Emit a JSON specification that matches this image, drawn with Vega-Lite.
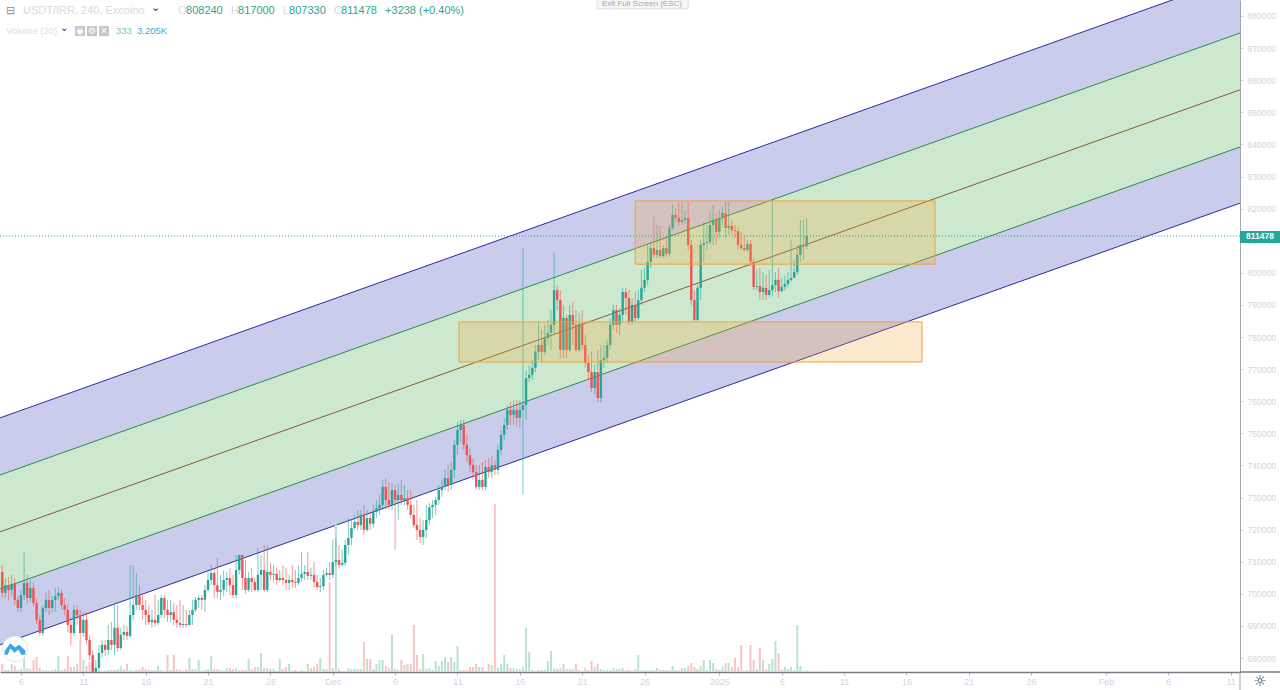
{
  "$schema": "https://vega.github.io/schema/vega-lite/v6.json",
  "width": 1240,
  "height": 672,
  "padding": {"left": 0, "top": 0, "right": 40, "bottom": 18},
  "autosize": "none",
  "background": "white",
  "view": {"stroke": null},
  "config": {"font": "Liberation Sans"},
  "datasets": {
    "channel": [
      {"t": "2024-11-04T07:36Z", "top": 754800, "gu": 737000, "mid": 719300, "gl": 701500, "bot": 684100},
      {"t": "2025-02-11T18:00Z", "top": 892500, "gu": 874700, "mid": 857000, "gl": 839200, "bot": 821700}
    ],
    "boxes": [
      {"t": "2024-12-11T03:00Z", "t2": "2025-01-17T06:00Z", "hi": 784700, "lo": 772200},
      {"t": "2024-12-25T06:00Z", "t2": "2025-01-18T07:00Z", "hi": 822400, "lo": 802700}
    ],
    "tag": [{"t": "2025-02-11T18:00Z", "t2": "2025-02-11T18:00Z", "hi": 813000, "lo": 809300, "p": 811478, "txt": "811478"}],
    "frame": [{"t": "2025-02-11T18:00Z", "t2": "2025-02-11T18:00Z", "p": 675640, "p2": 670000}],
    "gear": [{"t": "2025-02-11T18:00Z", "p": 672800, "txt": "☼"}],
    "banner": [{"t": "2024-12-22T04:48Z", "t2": "2024-12-29T12:00Z", "hi": 886000, "lo": 882200, "c": "2024-12-25T19:00Z", "p": 883700, "txt": "Exit Full Screen (ESC)"}],
    "logo": [{"t": "2024-11-05T12:24Z", "p": 682800}],
    "head": [
      {"t": "2024-11-04T19:06Z", "p": 881550, "kind": "icon", "txt": "⊟"},
      {"t": "2024-11-06T03:51Z", "p": 881550, "kind": "muted", "txt": "USDT/IRR, 240, Excoino"},
      {"t": "2024-11-16T10:15Z", "p": 882500, "kind": "dark", "txt": "⌄"},
      {"t": "2024-11-18T14:13Z", "p": 881550, "kind": "muted", "txt": "O"},
      {"t": "2024-11-19T05:37Z", "p": 881550, "kind": "value", "txt": "808240"},
      {"t": "2024-11-22T20:15Z", "p": 881550, "kind": "muted", "txt": "H"},
      {"t": "2024-11-23T09:42Z", "p": 881550, "kind": "value", "txt": "817000"},
      {"t": "2024-11-27T00:18Z", "p": 881550, "kind": "muted", "txt": "L"},
      {"t": "2024-11-27T11:54Z", "p": 881550, "kind": "value", "txt": "807330"},
      {"t": "2024-12-01T02:30Z", "p": 881550, "kind": "muted", "txt": "C"},
      {"t": "2024-12-01T16:00Z", "p": 881550, "kind": "value", "txt": "811478"},
      {"t": "2024-12-05T04:42Z", "p": 881550, "kind": "value", "txt": "+3238 (+0.40%)"}
    ],
    "head2": [
      {"t": "2024-11-04T19:06Z", "p": 875300, "kind": "faint", "txt": "Volume (20)"},
      {"t": "2024-11-09T03:00Z", "p": 876200, "kind": "dark", "txt": "⌄"},
      {"t": "2024-11-13T14:54Z", "p": 875300, "kind": "vol", "txt": "333"},
      {"t": "2024-11-15T07:18Z", "p": 875300, "kind": "avg", "txt": "3.205K"}
    ],
    "buttons": [
      {"t": "2024-11-10T17:36Z", "p": 875300, "txt": "◉"},
      {"t": "2024-11-11T16:42Z", "p": 875300, "txt": "⚙"},
      {"t": "2024-11-12T15:48Z", "p": 875300, "txt": "✕"}
    ],
    "candles": [
      {"t":"2024-11-04T12:00Z","o":706800,"h":709000,"l":698700,"c":700300,"v":1600},
      {"t":"2024-11-04T18:00Z","o":700300,"h":704900,"l":698700,"c":702700,"v":400},
      {"t":"2024-11-05T00:00Z","o":702700,"h":705200,"l":698100,"c":701200,"v":400},
      {"t":"2024-11-05T06:00Z","o":701200,"h":705900,"l":699300,"c":703000,"v":1600},
      {"t":"2024-11-05T12:00Z","o":703000,"h":704900,"l":696500,"c":698100,"v":1200},
      {"t":"2024-11-05T18:00Z","o":698100,"h":699300,"l":694300,"c":695600,"v":400},
      {"t":"2024-11-06T00:00Z","o":695600,"h":701200,"l":694300,"c":699600,"v":600},
      {"t":"2024-11-06T06:00Z","o":699600,"h":713000,"l":698100,"c":703400,"v":3400},
      {"t":"2024-11-06T12:00Z","o":703400,"h":705900,"l":697100,"c":698700,"v":800},
      {"t":"2024-11-06T18:00Z","o":698700,"h":704300,"l":697500,"c":701800,"v":600},
      {"t":"2024-11-07T00:00Z","o":701800,"h":703700,"l":695900,"c":697100,"v":2400},
      {"t":"2024-11-07T06:00Z","o":697100,"h":698700,"l":690600,"c":691900,"v":3000},
      {"t":"2024-11-07T12:00Z","o":691900,"h":693400,"l":686900,"c":687800,"v":800},
      {"t":"2024-11-07T18:00Z","o":687800,"h":696500,"l":686900,"c":695600,"v":400},
      {"t":"2024-11-08T00:00Z","o":695600,"h":700300,"l":694300,"c":698100,"v":400},
      {"t":"2024-11-08T06:00Z","o":698100,"h":701200,"l":693400,"c":695600,"v":200},
      {"t":"2024-11-08T12:00Z","o":695600,"h":699300,"l":694300,"c":698100,"v":400},
      {"t":"2024-11-08T18:00Z","o":698100,"h":701800,"l":694300,"c":699300,"v":600},
      {"t":"2024-11-09T00:00Z","o":699300,"h":702100,"l":698100,"c":700300,"v":3200},
      {"t":"2024-11-09T06:00Z","o":700300,"h":701200,"l":695000,"c":696500,"v":400},
      {"t":"2024-11-09T12:00Z","o":696500,"h":698700,"l":693400,"c":695000,"v":600},
      {"t":"2024-11-09T18:00Z","o":695000,"h":697100,"l":688100,"c":690300,"v":3200},
      {"t":"2024-11-10T00:00Z","o":690300,"h":692500,"l":684100,"c":687800,"v":1000},
      {"t":"2024-11-10T06:00Z","o":687800,"h":696500,"l":686900,"c":695000,"v":1000},
      {"t":"2024-11-10T12:00Z","o":695000,"h":696500,"l":690300,"c":693400,"v":1600},
      {"t":"2024-11-10T18:00Z","o":693400,"h":695000,"l":685600,"c":687800,"v":6400},
      {"t":"2024-11-11T00:00Z","o":687800,"h":694300,"l":686600,"c":691900,"v":2400},
      {"t":"2024-11-11T06:00Z","o":691900,"h":694300,"l":684100,"c":685600,"v":1200},
      {"t":"2024-11-11T12:00Z","o":685600,"h":687200,"l":679400,"c":680900,"v":2000},
      {"t":"2024-11-11T18:00Z","o":680900,"h":682500,"l":675700,"c":675700,"v":1600},
      {"t":"2024-11-12T00:00Z","o":675700,"h":679400,"l":675700,"c":676900,"v":600},
      {"t":"2024-11-12T06:00Z","o":676900,"h":684100,"l":675700,"c":681600,"v":200},
      {"t":"2024-11-12T12:00Z","o":681600,"h":685600,"l":680000,"c":684100,"v":200},
      {"t":"2024-11-12T18:00Z","o":684100,"h":685600,"l":680600,"c":682500,"v":200},
      {"t":"2024-11-13T00:00Z","o":682500,"h":690300,"l":680900,"c":685600,"v":400},
      {"t":"2024-11-13T06:00Z","o":685600,"h":691200,"l":682500,"c":684100,"v":400},
      {"t":"2024-11-13T12:00Z","o":684100,"h":696500,"l":680900,"c":689400,"v":400},
      {"t":"2024-11-13T18:00Z","o":689400,"h":696500,"l":681900,"c":683100,"v":600},
      {"t":"2024-11-14T00:00Z","o":683100,"h":689400,"l":682500,"c":687200,"v":1200},
      {"t":"2024-11-14T06:00Z","o":687200,"h":690300,"l":685600,"c":688100,"v":600},
      {"t":"2024-11-14T12:00Z","o":688100,"h":690000,"l":685600,"c":686900,"v":1600},
      {"t":"2024-11-14T18:00Z","o":686900,"h":709000,"l":686200,"c":693400,"v":400},
      {"t":"2024-11-15T00:00Z","o":693400,"h":709000,"l":691900,"c":696500,"v":200},
      {"t":"2024-11-15T06:00Z","o":696500,"h":706500,"l":695000,"c":699600,"v":400},
      {"t":"2024-11-15T12:00Z","o":699600,"h":702700,"l":695000,"c":696500,"v":600},
      {"t":"2024-11-15T18:00Z","o":696500,"h":699600,"l":691900,"c":695000,"v":1000},
      {"t":"2024-11-16T00:00Z","o":695000,"h":698100,"l":690300,"c":693400,"v":600},
      {"t":"2024-11-16T06:00Z","o":693400,"h":696500,"l":690300,"c":691200,"v":400},
      {"t":"2024-11-16T12:00Z","o":691200,"h":695000,"l":689400,"c":691900,"v":400},
      {"t":"2024-11-16T18:00Z","o":691900,"h":699600,"l":689700,"c":690900,"v":400},
      {"t":"2024-11-17T00:00Z","o":690900,"h":698100,"l":690300,"c":693400,"v":1200},
      {"t":"2024-11-17T06:00Z","o":693400,"h":699600,"l":692500,"c":698700,"v":400},
      {"t":"2024-11-17T12:00Z","o":698700,"h":699600,"l":692500,"c":695000,"v":200},
      {"t":"2024-11-17T18:00Z","o":695000,"h":698100,"l":691200,"c":693400,"v":3400},
      {"t":"2024-11-18T00:00Z","o":693400,"h":698100,"l":691200,"c":694300,"v":400},
      {"t":"2024-11-18T06:00Z","o":694300,"h":697100,"l":690300,"c":691900,"v":3400},
      {"t":"2024-11-18T12:00Z","o":691900,"h":696500,"l":689400,"c":690900,"v":600},
      {"t":"2024-11-18T18:00Z","o":690900,"h":698100,"l":689400,"c":690300,"v":400},
      {"t":"2024-11-19T00:00Z","o":690300,"h":696500,"l":689400,"c":690600,"v":200},
      {"t":"2024-11-19T06:00Z","o":690600,"h":695000,"l":689400,"c":690300,"v":600},
      {"t":"2024-11-19T12:00Z","o":690300,"h":695000,"l":690000,"c":693400,"v":2800},
      {"t":"2024-11-19T18:00Z","o":693400,"h":698100,"l":690300,"c":695000,"v":600},
      {"t":"2024-11-20T00:00Z","o":695000,"h":699000,"l":694300,"c":698100,"v":600},
      {"t":"2024-11-20T06:00Z","o":698100,"h":699600,"l":695600,"c":698700,"v":2400},
      {"t":"2024-11-20T12:00Z","o":698700,"h":699600,"l":695000,"c":698100,"v":200},
      {"t":"2024-11-20T18:00Z","o":698100,"h":702700,"l":694300,"c":701200,"v":400},
      {"t":"2024-11-21T00:00Z","o":701200,"h":706800,"l":700600,"c":704300,"v":600},
      {"t":"2024-11-21T06:00Z","o":704300,"h":709000,"l":702700,"c":706500,"v":3200},
      {"t":"2024-11-21T12:00Z","o":706500,"h":707400,"l":698700,"c":702700,"v":600},
      {"t":"2024-11-21T18:00Z","o":702700,"h":711200,"l":698700,"c":700600,"v":600},
      {"t":"2024-11-22T00:00Z","o":700600,"h":705900,"l":698100,"c":701200,"v":400},
      {"t":"2024-11-22T06:00Z","o":701200,"h":707400,"l":699300,"c":704300,"v":200},
      {"t":"2024-11-22T12:00Z","o":704300,"h":706800,"l":700600,"c":704900,"v":800},
      {"t":"2024-11-22T18:00Z","o":704900,"h":708000,"l":699600,"c":702700,"v":800},
      {"t":"2024-11-23T00:00Z","o":702700,"h":705900,"l":698700,"c":699600,"v":600},
      {"t":"2024-11-23T06:00Z","o":699600,"h":712100,"l":698700,"c":707400,"v":800},
      {"t":"2024-11-23T12:00Z","o":707400,"h":712100,"l":705900,"c":712100,"v":400},
      {"t":"2024-11-23T18:00Z","o":712100,"h":712100,"l":701200,"c":704900,"v":400},
      {"t":"2024-11-24T00:00Z","o":704900,"h":710500,"l":700000,"c":701200,"v":400},
      {"t":"2024-11-24T06:00Z","o":701200,"h":706800,"l":700600,"c":704900,"v":2600},
      {"t":"2024-11-24T12:00Z","o":704900,"h":708000,"l":700600,"c":703700,"v":600},
      {"t":"2024-11-24T18:00Z","o":703700,"h":704900,"l":700600,"c":701200,"v":1000},
      {"t":"2024-11-25T00:00Z","o":701200,"h":714300,"l":700600,"c":705900,"v":1000},
      {"t":"2024-11-25T06:00Z","o":705900,"h":712100,"l":701200,"c":707400,"v":3800},
      {"t":"2024-11-25T12:00Z","o":707400,"h":715200,"l":700600,"c":701200,"v":800},
      {"t":"2024-11-25T18:00Z","o":701200,"h":715200,"l":700600,"c":706800,"v":800},
      {"t":"2024-11-26T00:00Z","o":706800,"h":709600,"l":704300,"c":705900,"v":600},
      {"t":"2024-11-26T06:00Z","o":705900,"h":709000,"l":703700,"c":706200,"v":600},
      {"t":"2024-11-26T12:00Z","o":706200,"h":708000,"l":702700,"c":704300,"v":200},
      {"t":"2024-11-26T18:00Z","o":704300,"h":707400,"l":703700,"c":704900,"v":2600},
      {"t":"2024-11-27T00:00Z","o":704900,"h":709000,"l":702700,"c":704300,"v":600},
      {"t":"2024-11-27T06:00Z","o":704300,"h":708000,"l":701200,"c":703400,"v":1000},
      {"t":"2024-11-27T12:00Z","o":703400,"h":705900,"l":701200,"c":704300,"v":1600},
      {"t":"2024-11-27T18:00Z","o":704300,"h":709000,"l":701800,"c":703700,"v":200},
      {"t":"2024-11-28T00:00Z","o":703700,"h":707400,"l":701800,"c":703400,"v":400},
      {"t":"2024-11-28T06:00Z","o":703400,"h":709000,"l":702700,"c":704900,"v":200},
      {"t":"2024-11-28T12:00Z","o":704900,"h":713000,"l":703700,"c":706200,"v":400},
      {"t":"2024-11-28T18:00Z","o":706200,"h":709000,"l":704300,"c":706800,"v":200},
      {"t":"2024-11-29T00:00Z","o":706800,"h":713000,"l":704300,"c":705600,"v":1600},
      {"t":"2024-11-29T06:00Z","o":705600,"h":708000,"l":704300,"c":705900,"v":800},
      {"t":"2024-11-29T12:00Z","o":705900,"h":709900,"l":701800,"c":703700,"v":1000},
      {"t":"2024-11-29T18:00Z","o":703700,"h":705900,"l":701200,"c":702100,"v":1600},
      {"t":"2024-11-30T00:00Z","o":702100,"h":704900,"l":700600,"c":702400,"v":2800},
      {"t":"2024-11-30T06:00Z","o":702400,"h":707400,"l":701200,"c":705900,"v":600},
      {"t":"2024-11-30T12:00Z","o":705900,"h":708000,"l":705200,"c":706500,"v":600},
      {"t":"2024-11-30T18:00Z","o":706500,"h":709900,"l":704300,"c":705900,"v":18000},
      {"t":"2024-12-01T00:00Z","o":705900,"h":716800,"l":704900,"c":709900,"v":800},
      {"t":"2024-12-01T06:00Z","o":709900,"h":717400,"l":708700,"c":710500,"v":31000},
      {"t":"2024-12-01T12:00Z","o":710500,"h":715200,"l":708000,"c":709000,"v":600},
      {"t":"2024-12-01T18:00Z","o":709000,"h":713700,"l":708400,"c":709600,"v":200},
      {"t":"2024-12-02T00:00Z","o":709600,"h":716800,"l":708700,"c":715200,"v":200},
      {"t":"2024-12-02T06:00Z","o":715200,"h":723600,"l":712100,"c":717400,"v":800},
      {"t":"2024-12-02T12:00Z","o":717400,"h":723000,"l":715200,"c":720500,"v":600},
      {"t":"2024-12-02T18:00Z","o":720500,"h":724600,"l":719900,"c":722400,"v":600},
      {"t":"2024-12-03T00:00Z","o":722400,"h":726100,"l":719900,"c":721400,"v":600},
      {"t":"2024-12-03T06:00Z","o":721400,"h":726100,"l":719900,"c":724600,"v":600},
      {"t":"2024-12-03T12:00Z","o":724600,"h":727700,"l":718300,"c":719900,"v":6000},
      {"t":"2024-12-03T18:00Z","o":719900,"h":726100,"l":719300,"c":723600,"v":2600},
      {"t":"2024-12-04T00:00Z","o":723600,"h":725500,"l":719900,"c":721800,"v":2600},
      {"t":"2024-12-04T06:00Z","o":721800,"h":727700,"l":720500,"c":725500,"v":600},
      {"t":"2024-12-04T12:00Z","o":725500,"h":729200,"l":723600,"c":726700,"v":1600},
      {"t":"2024-12-04T18:00Z","o":726700,"h":730800,"l":724600,"c":727700,"v":2400},
      {"t":"2024-12-05T00:00Z","o":727700,"h":735500,"l":726100,"c":733300,"v":2400},
      {"t":"2024-12-05T06:00Z","o":733300,"h":736100,"l":726100,"c":729200,"v":1200},
      {"t":"2024-12-05T12:00Z","o":729200,"h":734800,"l":726100,"c":727700,"v":800},
      {"t":"2024-12-05T18:00Z","o":727700,"h":734500,"l":726100,"c":732300,"v":7600},
      {"t":"2024-12-06T00:00Z","o":732300,"h":733900,"l":713700,"c":729200,"v":600},
      {"t":"2024-12-06T06:00Z","o":729200,"h":734500,"l":723000,"c":730800,"v":400},
      {"t":"2024-12-06T12:00Z","o":730800,"h":735500,"l":727700,"c":729200,"v":2400},
      {"t":"2024-12-06T18:00Z","o":729200,"h":733900,"l":727400,"c":729800,"v":1400},
      {"t":"2024-12-07T00:00Z","o":729800,"h":732300,"l":726100,"c":727700,"v":1600},
      {"t":"2024-12-07T06:00Z","o":727700,"h":732300,"l":723600,"c":724600,"v":1600},
      {"t":"2024-12-07T12:00Z","o":724600,"h":727700,"l":720500,"c":721400,"v":9400},
      {"t":"2024-12-07T18:00Z","o":721400,"h":729200,"l":716800,"c":719900,"v":3400},
      {"t":"2024-12-08T00:00Z","o":719900,"h":723600,"l":715800,"c":717700,"v":600},
      {"t":"2024-12-08T06:00Z","o":717700,"h":723000,"l":715200,"c":719900,"v":3600},
      {"t":"2024-12-08T12:00Z","o":719900,"h":727700,"l":717400,"c":723000,"v":600},
      {"t":"2024-12-08T18:00Z","o":723000,"h":728300,"l":721400,"c":727000,"v":800},
      {"t":"2024-12-09T00:00Z","o":727000,"h":729200,"l":723600,"c":727700,"v":400},
      {"t":"2024-12-09T06:00Z","o":727700,"h":730200,"l":724600,"c":729200,"v":2200},
      {"t":"2024-12-09T12:00Z","o":729200,"h":733900,"l":727700,"c":732300,"v":1200},
      {"t":"2024-12-09T18:00Z","o":732300,"h":735500,"l":730200,"c":733300,"v":2200},
      {"t":"2024-12-10T00:00Z","o":733300,"h":738600,"l":732300,"c":736100,"v":3000},
      {"t":"2024-12-10T06:00Z","o":736100,"h":740100,"l":731700,"c":733900,"v":2000},
      {"t":"2024-12-10T12:00Z","o":733900,"h":741100,"l":732300,"c":738600,"v":3000},
      {"t":"2024-12-10T18:00Z","o":738600,"h":747900,"l":736100,"c":746400,"v":2000},
      {"t":"2024-12-11T00:00Z","o":746400,"h":753500,"l":743200,"c":751000,"v":5200},
      {"t":"2024-12-11T06:00Z","o":751000,"h":754200,"l":747300,"c":752600,"v":400},
      {"t":"2024-12-11T12:00Z","o":752600,"h":754200,"l":744800,"c":746400,"v":400},
      {"t":"2024-12-11T18:00Z","o":746400,"h":749500,"l":741100,"c":743200,"v":400},
      {"t":"2024-12-12T00:00Z","o":743200,"h":745400,"l":737900,"c":740100,"v":1000},
      {"t":"2024-12-12T06:00Z","o":740100,"h":742300,"l":735500,"c":737900,"v":1000},
      {"t":"2024-12-12T12:00Z","o":737900,"h":740100,"l":732300,"c":733300,"v":1600},
      {"t":"2024-12-12T18:00Z","o":733300,"h":740100,"l":732300,"c":735500,"v":1000},
      {"t":"2024-12-13T00:00Z","o":735500,"h":741100,"l":732300,"c":733300,"v":1000},
      {"t":"2024-12-13T06:00Z","o":733300,"h":741700,"l":732300,"c":739500,"v":200},
      {"t":"2024-12-13T12:00Z","o":739500,"h":742300,"l":736100,"c":737900,"v":1600},
      {"t":"2024-12-13T18:00Z","o":737900,"h":743000,"l":736100,"c":740100,"v":1400},
      {"t":"2024-12-14T00:00Z","o":740100,"h":741700,"l":737000,"c":738600,"v":33600},
      {"t":"2024-12-14T06:00Z","o":738600,"h":746400,"l":737000,"c":744800,"v":800},
      {"t":"2024-12-14T12:00Z","o":744800,"h":751000,"l":743200,"c":749500,"v":1600},
      {"t":"2024-12-14T18:00Z","o":749500,"h":754800,"l":747900,"c":752600,"v":3400},
      {"t":"2024-12-15T00:00Z","o":752600,"h":758800,"l":751000,"c":757300,"v":1600},
      {"t":"2024-12-15T06:00Z","o":757300,"h":759800,"l":752600,"c":755700,"v":800},
      {"t":"2024-12-15T12:00Z","o":755700,"h":760400,"l":752600,"c":757300,"v":800},
      {"t":"2024-12-15T18:00Z","o":757300,"h":760400,"l":752300,"c":754800,"v":600},
      {"t":"2024-12-16T00:00Z","o":754800,"h":760400,"l":751700,"c":757300,"v":600},
      {"t":"2024-12-16T06:00Z","o":757300,"h":807700,"l":731100,"c":758800,"v":1000},
      {"t":"2024-12-16T12:00Z","o":758800,"h":769700,"l":754200,"c":767200,"v":8800},
      {"t":"2024-12-16T18:00Z","o":767200,"h":771300,"l":766000,"c":768200,"v":4000},
      {"t":"2024-12-17T00:00Z","o":768200,"h":772800,"l":766600,"c":770400,"v":400},
      {"t":"2024-12-17T06:00Z","o":770400,"h":777500,"l":769100,"c":775400,"v":200},
      {"t":"2024-12-17T12:00Z","o":775400,"h":784700,"l":772800,"c":777500,"v":400},
      {"t":"2024-12-17T18:00Z","o":777500,"h":782200,"l":772200,"c":775400,"v":400},
      {"t":"2024-12-18T00:00Z","o":775400,"h":783800,"l":774400,"c":779700,"v":400},
      {"t":"2024-12-18T06:00Z","o":779700,"h":785300,"l":777500,"c":781300,"v":2200},
      {"t":"2024-12-18T12:00Z","o":781300,"h":788400,"l":776000,"c":783800,"v":4200},
      {"t":"2024-12-18T18:00Z","o":783800,"h":806500,"l":780600,"c":794600,"v":600},
      {"t":"2024-12-19T00:00Z","o":794600,"h":796200,"l":788400,"c":791500,"v":600},
      {"t":"2024-12-19T06:00Z","o":791500,"h":794600,"l":773500,"c":776000,"v":800},
      {"t":"2024-12-19T12:00Z","o":776000,"h":790000,"l":773500,"c":785900,"v":1600},
      {"t":"2024-12-19T18:00Z","o":785900,"h":786900,"l":773500,"c":776000,"v":600},
      {"t":"2024-12-20T00:00Z","o":776000,"h":790000,"l":775400,"c":786900,"v":600},
      {"t":"2024-12-20T06:00Z","o":786900,"h":790900,"l":777500,"c":783800,"v":600},
      {"t":"2024-12-20T12:00Z","o":783800,"h":788400,"l":775400,"c":776000,"v":1600},
      {"t":"2024-12-20T18:00Z","o":776000,"h":787500,"l":775400,"c":784100,"v":400},
      {"t":"2024-12-21T00:00Z","o":784100,"h":788400,"l":776000,"c":777500,"v":200},
      {"t":"2024-12-21T06:00Z","o":777500,"h":780600,"l":770400,"c":771900,"v":800},
      {"t":"2024-12-21T12:00Z","o":771900,"h":774400,"l":766600,"c":769100,"v":400},
      {"t":"2024-12-21T18:00Z","o":769100,"h":775400,"l":762900,"c":764100,"v":2200},
      {"t":"2024-12-22T00:00Z","o":764100,"h":771300,"l":762200,"c":769100,"v":1000},
      {"t":"2024-12-22T06:00Z","o":769100,"h":776000,"l":759500,"c":761000,"v":1600},
      {"t":"2024-12-22T12:00Z","o":761000,"h":777500,"l":759500,"c":772800,"v":600},
      {"t":"2024-12-22T18:00Z","o":772800,"h":777500,"l":770400,"c":773500,"v":400},
      {"t":"2024-12-23T00:00Z","o":773500,"h":779100,"l":771900,"c":777500,"v":400},
      {"t":"2024-12-23T06:00Z","o":777500,"h":785900,"l":776000,"c":783800,"v":400},
      {"t":"2024-12-23T12:00Z","o":783800,"h":790000,"l":782200,"c":788400,"v":800},
      {"t":"2024-12-23T18:00Z","o":788400,"h":790000,"l":781300,"c":783800,"v":600},
      {"t":"2024-12-24T00:00Z","o":783800,"h":789000,"l":780600,"c":786900,"v":600},
      {"t":"2024-12-24T06:00Z","o":786900,"h":795300,"l":784700,"c":794000,"v":800},
      {"t":"2024-12-24T12:00Z","o":794000,"h":795300,"l":786900,"c":792100,"v":400},
      {"t":"2024-12-24T18:00Z","o":792100,"h":794600,"l":783800,"c":784700,"v":400},
      {"t":"2024-12-25T00:00Z","o":784700,"h":792100,"l":783800,"c":790000,"v":200},
      {"t":"2024-12-25T06:00Z","o":790000,"h":794000,"l":784700,"c":785900,"v":600},
      {"t":"2024-12-25T12:00Z","o":785900,"h":794600,"l":785300,"c":791500,"v":3400},
      {"t":"2024-12-25T18:00Z","o":791500,"h":800900,"l":790000,"c":795300,"v":400},
      {"t":"2024-12-26T00:00Z","o":795300,"h":801500,"l":794000,"c":797800,"v":400},
      {"t":"2024-12-26T06:00Z","o":797800,"h":808700,"l":796200,"c":803400,"v":400},
      {"t":"2024-12-26T12:00Z","o":803400,"h":809300,"l":801500,"c":807700,"v":400},
      {"t":"2024-12-26T18:00Z","o":807700,"h":817400,"l":804600,"c":805600,"v":400},
      {"t":"2024-12-27T00:00Z","o":805600,"h":814900,"l":804600,"c":807100,"v":800},
      {"t":"2024-12-27T06:00Z","o":807100,"h":814600,"l":804600,"c":805200,"v":400},
      {"t":"2024-12-27T12:00Z","o":805200,"h":808700,"l":804600,"c":807700,"v":400},
      {"t":"2024-12-27T18:00Z","o":807700,"h":811500,"l":804900,"c":805900,"v":400},
      {"t":"2024-12-28T00:00Z","o":805900,"h":814900,"l":805200,"c":814000,"v":400},
      {"t":"2024-12-28T06:00Z","o":814000,"h":821100,"l":813300,"c":818000,"v":1200},
      {"t":"2024-12-28T12:00Z","o":818000,"h":820200,"l":815800,"c":817100,"v":400},
      {"t":"2024-12-28T18:00Z","o":817100,"h":822100,"l":814600,"c":815800,"v":400},
      {"t":"2024-12-29T00:00Z","o":815800,"h":822100,"l":814900,"c":816500,"v":800},
      {"t":"2024-12-29T06:00Z","o":816500,"h":819600,"l":815200,"c":817100,"v":800},
      {"t":"2024-12-29T12:00Z","o":817100,"h":822100,"l":807100,"c":808700,"v":1200},
      {"t":"2024-12-29T18:00Z","o":808700,"h":810200,"l":790000,"c":791500,"v":1800},
      {"t":"2024-12-30T00:00Z","o":791500,"h":794600,"l":784700,"c":785300,"v":1000},
      {"t":"2024-12-30T06:00Z","o":785300,"h":796200,"l":784700,"c":795300,"v":600},
      {"t":"2024-12-30T12:00Z","o":795300,"h":810200,"l":791500,"c":808700,"v":1200},
      {"t":"2024-12-30T18:00Z","o":808700,"h":815800,"l":803400,"c":809300,"v":2400},
      {"t":"2024-12-31T00:00Z","o":809300,"h":814900,"l":807100,"c":809600,"v":400},
      {"t":"2024-12-31T06:00Z","o":809600,"h":818900,"l":808700,"c":814900,"v":2400},
      {"t":"2024-12-31T12:00Z","o":814900,"h":821100,"l":808700,"c":816500,"v":1800},
      {"t":"2024-12-31T18:00Z","o":816500,"h":818600,"l":808700,"c":812700,"v":600},
      {"t":"2025-01-01T00:00Z","o":812700,"h":819600,"l":810800,"c":817100,"v":400},
      {"t":"2025-01-01T06:00Z","o":817100,"h":820500,"l":814600,"c":818600,"v":1000},
      {"t":"2025-01-01T12:00Z","o":818600,"h":822100,"l":810800,"c":814000,"v":1800},
      {"t":"2025-01-01T18:00Z","o":814000,"h":822100,"l":811800,"c":814600,"v":1800},
      {"t":"2025-01-02T00:00Z","o":814600,"h":816500,"l":811800,"c":813300,"v":1000},
      {"t":"2025-01-02T06:00Z","o":813300,"h":814900,"l":810800,"c":813000,"v":2800},
      {"t":"2025-01-02T12:00Z","o":813000,"h":814000,"l":807100,"c":808700,"v":1000},
      {"t":"2025-01-02T18:00Z","o":808700,"h":812700,"l":807100,"c":807700,"v":5400},
      {"t":"2025-01-03T00:00Z","o":807700,"h":811500,"l":806500,"c":807100,"v":200},
      {"t":"2025-01-03T06:00Z","o":807100,"h":810200,"l":806500,"c":809000,"v":400},
      {"t":"2025-01-03T12:00Z","o":809000,"h":810200,"l":802100,"c":803400,"v":5400},
      {"t":"2025-01-03T18:00Z","o":803400,"h":804600,"l":794600,"c":795600,"v":2400},
      {"t":"2025-01-04T00:00Z","o":795600,"h":800900,"l":794600,"c":795900,"v":600},
      {"t":"2025-01-04T06:00Z","o":795900,"h":801500,"l":791500,"c":794000,"v":4800},
      {"t":"2025-01-04T12:00Z","o":794000,"h":800200,"l":791500,"c":795300,"v":2400},
      {"t":"2025-01-04T18:00Z","o":795300,"h":799300,"l":791500,"c":793100,"v":600},
      {"t":"2025-01-05T00:00Z","o":793100,"h":800900,"l":792500,"c":794600,"v":1600},
      {"t":"2025-01-05T06:00Z","o":794600,"h":822700,"l":792800,"c":796200,"v":2600},
      {"t":"2025-01-05T12:00Z","o":796200,"h":800200,"l":794000,"c":797800,"v":6200},
      {"t":"2025-01-05T18:00Z","o":797800,"h":801500,"l":792200,"c":794300,"v":3800},
      {"t":"2025-01-06T00:00Z","o":794300,"h":798400,"l":794000,"c":795600,"v":600},
      {"t":"2025-01-06T06:00Z","o":795600,"h":799000,"l":794600,"c":796500,"v":1000},
      {"t":"2025-01-06T12:00Z","o":796500,"h":800200,"l":795300,"c":797800,"v":600},
      {"t":"2025-01-06T18:00Z","o":797800,"h":810200,"l":797100,"c":798400,"v":1000},
      {"t":"2025-01-07T00:00Z","o":798400,"h":804000,"l":799000,"c":800200,"v":400},
      {"t":"2025-01-07T06:00Z","o":800200,"h":808700,"l":799300,"c":805600,"v":9400},
      {"t":"2025-01-07T12:00Z","o":805600,"h":816500,"l":803400,"c":808700,"v":1200},
      {"t":"2025-01-07T18:00Z","o":808700,"h":816500,"l":804000,"c":808240,"v":200},
      {"t":"2025-01-08T00:00Z","o":808240,"h":817000,"l":807330,"c":811478,"v":333}
    ]
  },
  "encoding": {
    "x": {
      "field": "t",
      "type": "temporal",
      "title": null,
      "scale": {"type": "utc", "padding": 0, "domain": ["2024-11-04T07:36Z", "2025-02-11T18:00Z"]},
      "axis": {
        "values": ["2024-11-06T00:00Z","2024-11-11T00:00Z","2024-11-16T00:00Z","2024-11-21T00:00Z","2024-11-26T00:00Z","2024-12-01T00:00Z","2024-12-06T00:00Z","2024-12-11T00:00Z","2024-12-16T00:00Z","2024-12-21T00:00Z","2024-12-26T00:00Z","2025-01-01T00:00Z","2025-01-06T00:00Z","2025-01-11T00:00Z","2025-01-16T00:00Z","2025-01-21T00:00Z","2025-01-26T00:00Z","2025-02-01T00:00Z","2025-02-06T00:00Z","2025-02-11T00:00Z"],
        "labelExpr": "utcdate(datum.value) == 1 ? (utcmonth(datum.value) == 0 ? '2025' : utcmonth(datum.value) == 11 ? 'Dec' : 'Feb') : '' + utcdate(datum.value)",
        "grid": false,
        "labelColor": "#d3d5da",
        "labelFontSize": 9,
        "labelPadding": 2,
        "labelFlush": false,
        "labelOverlap": false,
        "tickColor": "#b5b7bd",
        "tickSize": 3,
        "domainColor": "#787b86",
        "domainWidth": 1.5
      }
    }
  },
  "resolve": {"scale": {"y": "independent"}},
  "layer": [
    {
      "data": {"name": "channel"},
      "layer": [
        {"mark": {"type": "area", "color": "#cacceb", "clip": true, "opacity": 1}, "encoding": {"y": {"field": "top", "type": "quantitative", "title": null, "axis": null, "scale": {"domain": [675640, 884984], "nice": false, "zero": false}}, "y2": {"field": "bot"}}},
        {"mark": {"type": "area", "color": "#cce9cf", "clip": true, "opacity": 1}, "encoding": {"y": {"field": "gu", "type": "quantitative", "axis": null}, "y2": {"field": "gl"}}},
        {"mark": {"type": "line", "color": "#2b2ba6", "strokeWidth": 1, "clip": true}, "encoding": {"y": {"field": "top", "type": "quantitative", "axis": null}}},
        {"mark": {"type": "line", "color": "#2f8a4a", "strokeWidth": 1, "clip": true}, "encoding": {"y": {"field": "gu", "type": "quantitative", "axis": null}}},
        {"mark": {"type": "line", "color": "#8a5a34", "strokeWidth": 1, "clip": true}, "encoding": {"y": {"field": "mid", "type": "quantitative", "axis": null}}},
        {"mark": {"type": "line", "color": "#2f8a4a", "strokeWidth": 1, "clip": true}, "encoding": {"y": {"field": "gl", "type": "quantitative", "axis": null}}},
        {"mark": {"type": "line", "color": "#2b2ba6", "strokeWidth": 1, "clip": true}, "encoding": {"y": {"field": "bot", "type": "quantitative", "axis": null}}}
      ]
    },
    {
      "data": {"name": "candles"},
      "mark": {"type": "bar", "width": 2},
      "encoding": {
        "y": {"field": "v", "type": "quantitative", "axis": null, "scale": {"domain": [0, 134400], "nice": false}},
        "color": {"condition": {"test": "datum.c < datum.o", "value": "#f8c5c6"}, "value": "#b8e3d3"}
      }
    },
    {
      "layer": [
        {
          "data": {"name": "candles"},
          "mark": {"type": "rule", "strokeWidth": 1, "opacity": 0.6},
          "encoding": {
            "y": {
              "field": "h",
              "type": "quantitative",
              "title": null,
              "scale": {"domain": [675640, 884984], "nice": false, "zero": false},
              "axis": null
            },
            "y2": {"field": "l"},
            "color": {"condition": {"test": "datum.c < datum.o", "value": "#ef5350"}, "value": "#26a69a"}
          }
        },
        {
          "data": {"name": "candles"},
          "mark": {"type": "bar", "width": 2.4},
          "encoding": {
            "y": {"field": "o", "type": "quantitative", "axis": null},
            "y2": {"field": "c"},
            "color": {"condition": {"test": "datum.c < datum.o", "value": "#ef5350"}, "value": "#26a69a"}
          }
        },
        {
          "data": {"name": "boxes"},
          "mark": {"type": "rect", "fill": "#f7a233", "fillOpacity": 0.24, "stroke": "#eea23c", "strokeWidth": 1},
          "encoding": {"x2": {"field": "t2"}, "y": {"field": "hi", "type": "quantitative", "axis": null}, "y2": {"field": "lo"}}
        },
        {
          "data": {"name": "frame"},
          "mark": {"type": "rule", "color": "#a3a5ab", "strokeWidth": 1},
          "encoding": {"y": {"field": "p", "type": "quantitative", "axis": null}, "y2": {"field": "p2"}}
        },
        {
          "data": {"name": "frame"},
          "mark": {"type": "rule", "color": "#787b86", "strokeWidth": 1.5, "x2Offset": 40},
          "encoding": {"x2": {"field": "t2"}, "y": {"field": "p", "type": "quantitative", "axis": null}}
        },
        {
          "data": {"name": "gear"},
          "mark": {"type": "text", "color": "#333333", "fontSize": 15, "font": "DejaVu Sans", "dx": 20},
          "encoding": {"y": {"field": "p", "type": "quantitative", "axis": null}, "text": {"field": "txt"}}
        },
        {
          "data": {"name": "banner"},
          "mark": {"type": "rect", "fill": "#f6f6f6", "stroke": "#dedede", "strokeWidth": 1, "clip": true},
          "encoding": {"x2": {"field": "t2"}, "y": {"field": "hi", "type": "quantitative", "axis": null}, "y2": {"field": "lo"}}
        },
        {
          "data": {"name": "banner"},
          "mark": {"type": "text", "color": "#a8a8a8", "fontSize": 8},
          "encoding": {"x": {"field": "c", "type": "temporal"}, "y": {"field": "p", "type": "quantitative", "axis": null}, "text": {"field": "txt"}}
        },
        {
          "data": {"name": "logo"},
          "mark": {"type": "point", "shape": "circle", "size": 640, "filled": true, "fill": "white", "stroke": "#e6e6e6", "strokeWidth": 1, "opacity": 1},
          "encoding": {"y": {"field": "p", "type": "quantitative", "axis": null}}
        },
        {
          "data": {"name": "logo"},
          "mark": {"type": "point", "shape": "M-1,0.55L-1,0.2L-0.45,-0.55L0,-0.15L0.4,-0.4L1,0.15L1,0.55L0.6,0.55L0.35,0.05L-0.05,0.35L-0.45,-0.05L-0.7,0.55Z", "size": 430, "filled": true, "fill": "#3fa5ec", "opacity": 1},
          "encoding": {"y": {"field": "p", "type": "quantitative", "axis": null}}
        },
        {
          "data": {"name": "head"},
          "mark": {"type": "text", "align": "left", "fontSize": 11},
          "encoding": {
            "y": {"field": "p", "type": "quantitative", "axis": null},
            "text": {"field": "txt"},
            "color": {"field": "kind", "type": "nominal", "legend": null, "scale": {"domain": ["icon", "muted", "dark", "value", "faint", "vol", "avg"], "range": ["#8f9197", "#d8dade", "#333333", "#2da58c", "#dcdee2", "#7fc8ab", "#45a9cf"]}}
          }
        },
        {
          "data": {"name": "buttons"},
          "mark": {"type": "point", "shape": "square", "size": 100, "filled": true, "fill": "#c3c5cd", "opacity": 1},
          "encoding": {"y": {"field": "p", "type": "quantitative", "axis": null}}
        },
        {
          "data": {"name": "buttons"},
          "mark": {"type": "text", "color": "white", "fontSize": 9, "font": "DejaVu Sans"},
          "encoding": {"y": {"field": "p", "type": "quantitative", "axis": null}, "text": {"field": "txt"}}
        },
        {
          "data": {"name": "head2"},
          "mark": {"type": "text", "align": "left", "fontSize": 9.5},
          "encoding": {
            "y": {"field": "p", "type": "quantitative", "axis": null},
            "text": {"field": "txt"},
            "color": {"field": "kind", "type": "nominal", "legend": null}
          }
        }
      ]
    },
    {
      "data": {"name": "tag"},
      "mark": {"type": "rule", "color": "#26a69a", "strokeWidth": 1, "strokeDash": [1, 2]},
      "encoding": {
        "x": null,
        "y": {
          "field": "p",
          "type": "quantitative",
          "title": null,
          "scale": {"domain": [675640, 884984], "nice": false, "zero": false},
          "axis": {
            "orient": "right",
            "values": [680000,690000,700000,710000,720000,730000,740000,750000,760000,770000,780000,790000,800000,810000,820000,830000,840000,850000,860000,870000,880000],
            "format": "d",
            "grid": false,
            "labelOverlap": false,
            "tickSize": 3,
            "tickColor": "#cfd1d6",
            "labelColor": "#d3d5da",
            "labelFontSize": 8.5,
            "labelPadding": 4,
            "domainColor": "#a3a5ab",
            "domainWidth": 1
          }
        }
      }
    },
    {
      "data": {"name": "tag"},
      "layer": [
        {
          "mark": {"type": "rect", "fill": "#26a69a", "x2Offset": 40},
          "encoding": {"x2": {"field": "t2"}, "y": {"field": "hi", "type": "quantitative", "axis": null, "scale": {"domain": [675640, 884984], "nice": false, "zero": false}}, "y2": {"field": "lo"}}
        },
        {
          "mark": {"type": "text", "color": "white", "fontSize": 8.5, "fontWeight": "bold", "dx": 20},
          "encoding": {"y": {"field": "p", "type": "quantitative", "axis": null}, "text": {"field": "txt"}}
        }
      ]
    }
  ]
}
